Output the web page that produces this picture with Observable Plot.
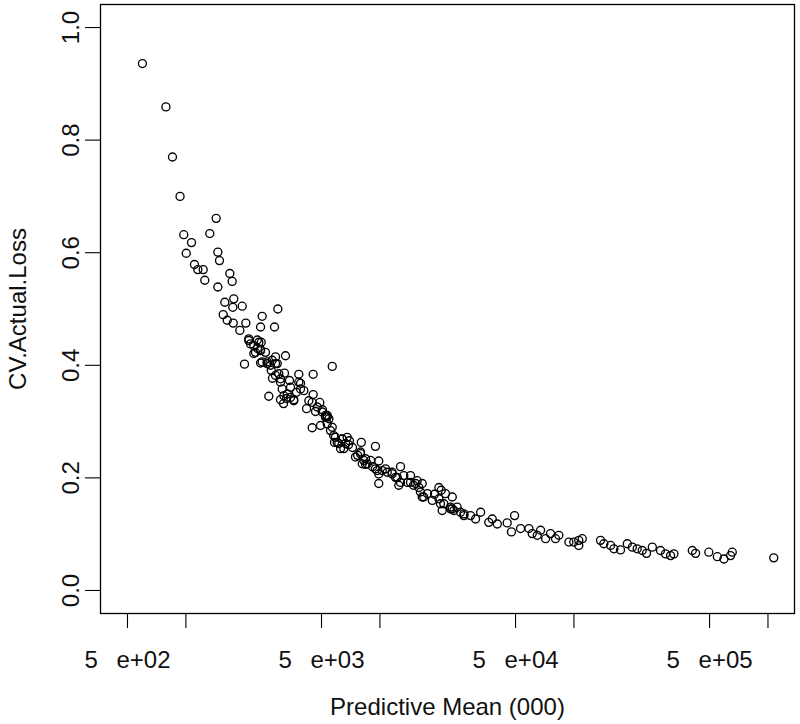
<!DOCTYPE html>
<html>
<head>
<meta charset="utf-8">
<script src="https://cdn.jsdelivr.net/npm/d3@7"></script>
<script src="https://cdn.jsdelivr.net/npm/@observablehq/plot@0.6"></script>
<style>
  html, body { margin: 0; padding: 0; background: #fff; }
  #chart { width: 800px; height: 724px; }
  svg text { font-family: "Liberation Sans", Arial, sans-serif; }
</style>
</head>
<body>
<div id="chart"></div>
<script>
const predictiveMean = [597, 789, 853, 933, 1432, 1328, 975, 1069, 1004, 1461, 1490, 1107, 1152, 1228, 1251, 1684, 1732, 1461, 1587, 1765, 1745, 1951, 2977, 1557, 1633, 1754, 1897, 2036, 2473, 2426, 2862, 2109, 2333, 2153, 2444, 2239, 2426, 2005, 2426, 2624, 2729, 2897, 3261, 2956, 2753, 3013, 5680, 3223, 3819, 4529, 3074, 3461, 3899, 4053, 2675, 3074, 3302, 3597, 3330, 4529, 4301, 4898, 4188, 4656, 5348, 4477, 4943, 5680, 5248, 5458, 5902, 6397, 6776, 6138, 6516, 8017, 9484, 7482, 7943, 8433, 8954, 9863, 9683, 10690, 11560, 12770, 13280, 14380, 15560, 16520, 12510, 9863, 16830, 18620, 20140, 21780, 23600, 20510, 25000, 27100, 23600, 20700, 20940, 23120, 29310, 31120, 33040, 37930, 36390, 40270, 45290, 49430, 47640, 53080, 58610, 60950, 64710, 67300, 71450, 75700, 80350, 83560, 94190, 99800, 105900, 110400, 105900, 137100, 142600, 154500, 160700, 173800, 188300, 200000, 211800, 224900, 236600, 253500, 279300, 296500, 314800, 327300, 407400, 423600, 495500, 548300, 592900, 641200, 654600, 1071000,
  6890, 7222, 8433, 9162, 12030, 13870, 14900, 17590, 19100, 2339, 2572, 2794, 3420, 3715, 3186, 5058, 5562, 5834,
  5244, 5348, 5781, 6026, 6397, 6653, 6266, 6966, 7674, 7943, 8260, 8610, 8110, 9484, 10280, 10910, 11560, 12280, 12770, 9863, 14380, 15270, 15870, 16180, 16520, 20140, 21340, 23120, 24050, 26020, 27100,
  2109, 2239, 2377, 2284, 2426, 2473, 2624, 2786, 2897, 2897, 3074, 3135, 3199, 3461, 3597, 3819, 3899, 4477, 4753, 5043, 5348];
const cvActualLoss = [0.936, 0.859, 0.770, 0.700, 0.661, 0.634, 0.632, 0.618, 0.599, 0.601, 0.586, 0.579, 0.570, 0.570, 0.551, 0.563, 0.549, 0.539, 0.512, 0.518, 0.503, 0.505, 0.500, 0.490, 0.480, 0.475, 0.462, 0.475, 0.487, 0.468, 0.468, 0.447, 0.445, 0.438, 0.441, 0.421, 0.428, 0.402, 0.404, 0.406, 0.400, 0.415, 0.417, 0.403, 0.391, 0.385, 0.398, 0.386, 0.384, 0.384, 0.370, 0.361, 0.368, 0.355, 0.345, 0.339, 0.341, 0.339, 0.349, 0.348, 0.337, 0.334, 0.323, 0.318, 0.308, 0.289, 0.293, 0.290, 0.311, 0.305, 0.272, 0.269, 0.272, 0.261, 0.252, 0.263, 0.256, 0.237, 0.246, 0.234, 0.231, 0.230, 0.213, 0.216, 0.210, 0.220, 0.204, 0.204, 0.195, 0.190, 0.187, 0.190, 0.166, 0.160, 0.183, 0.172, 0.166, 0.154, 0.148, 0.136, 0.145, 0.178, 0.142, 0.145, 0.133, 0.127, 0.139, 0.127, 0.121, 0.118, 0.120, 0.133, 0.104, 0.110, 0.110, 0.101, 0.098, 0.107, 0.092, 0.101, 0.092, 0.098, 0.086, 0.086, 0.089, 0.092, 0.080, 0.089, 0.083, 0.080, 0.074, 0.072, 0.083, 0.077, 0.074, 0.071, 0.066, 0.077, 0.071, 0.065, 0.062, 0.065, 0.071, 0.066, 0.068, 0.060, 0.056, 0.062, 0.068, 0.058,
  0.259, 0.254, 0.224, 0.220, 0.201, 0.192, 0.187, 0.172, 0.171, 0.430, 0.423, 0.377, 0.373, 0.352, 0.332, 0.321, 0.284, 0.263,
  0.308, 0.296, 0.275, 0.263, 0.269, 0.261, 0.252, 0.266, 0.240, 0.243, 0.231, 0.225, 0.225, 0.216, 0.213, 0.210, 0.207, 0.201, 0.192, 0.207, 0.192, 0.190, 0.183, 0.175, 0.166, 0.163, 0.154, 0.148, 0.142, 0.139, 0.133,
  0.444, 0.435, 0.441, 0.423, 0.426, 0.406, 0.403, 0.409, 0.403, 0.382, 0.376, 0.358, 0.346, 0.343, 0.337, 0.370, 0.358, 0.334, 0.326, 0.317, 0.311];

const xTicks = [500, 1000, 5000, 10000, 50000, 100000, 500000, 1000000];
const xLabelValues = [500, 5000, 50000, 500000];
const xTickLabels = ["5\u2002\u00a0e+02", "5\u2002\u00a0e+03", "5\u2002\u00a0e+04", "5\u2002\u00a0e+05"];
const yTicks = [0, 0.2, 0.4, 0.6, 0.8, 1.0];
const yTickLabels = ["0.0", "0.2", "0.4", "0.6", "0.8", "1.0"];
const xTitle = "Predictive Mean (000)";
const yTitle = "CV.Actual.Loss";

const points = predictiveMean.map((x, i) => ({x, y: cvActualLoss[i]}));
const xLabelData = xLabelValues.map((v, i) => ({v, label: xTickLabels[i]}));
const yLabelData = yTicks.map((v, i) => ({v, label: yTickLabels[i]}));
const font = "Liberation Sans, Arial, sans-serif";

const chart = Plot.plot({
  width: 800,
  height: 724,
  marginLeft: 100,
  marginRight: 6,
  marginTop: 4,
  marginBottom: 111,
  style: {background: "#fff", color: "#000", fontFamily: font},
  x: {type: "log", domain: [363, 1370000], label: null},
  y: {domain: [-0.0409, 1.0409], label: null},
  marks: [
    Plot.frame({stroke: "#000", strokeWidth: 1.3}),
    Plot.dot(points, {x: "x", y: "y", r: 4, stroke: "#000", strokeWidth: 1.35, fill: "none"}),
    Plot.axisX(xTicks, {tickSize: 15, tickFormat: () => "", label: null, stroke: "#000", strokeWidth: 1.1}),
    Plot.axisY(yTicks, {tickSize: 15, tickFormat: () => "", label: null, stroke: "#000", strokeWidth: 1.1}),
    Plot.text(xLabelData, {
      x: "v", text: "label", frameAnchor: "bottom", dy: 47,
      textAnchor: "middle", lineAnchor: "middle", fontSize: 24, fill: "#111"
    }),
    Plot.text(yLabelData, {
      y: "v", text: "label", frameAnchor: "left", dx: -29, rotate: -90,
      textAnchor: "middle", lineAnchor: "middle", fontSize: 24, fill: "#111"
    }),
    Plot.text([yTitle], {
      frameAnchor: "left", dx: -82, rotate: -90, textAnchor: "middle", lineAnchor: "middle",
      fontSize: 24, fill: "#111"
    }),
    Plot.text([xTitle], {
      frameAnchor: "bottom", dy: 94, textAnchor: "middle", lineAnchor: "middle",
      fontSize: 24, fill: "#111"
    })
  ]
});
document.getElementById("chart").appendChild(chart);
</script>
</body>
</html>
